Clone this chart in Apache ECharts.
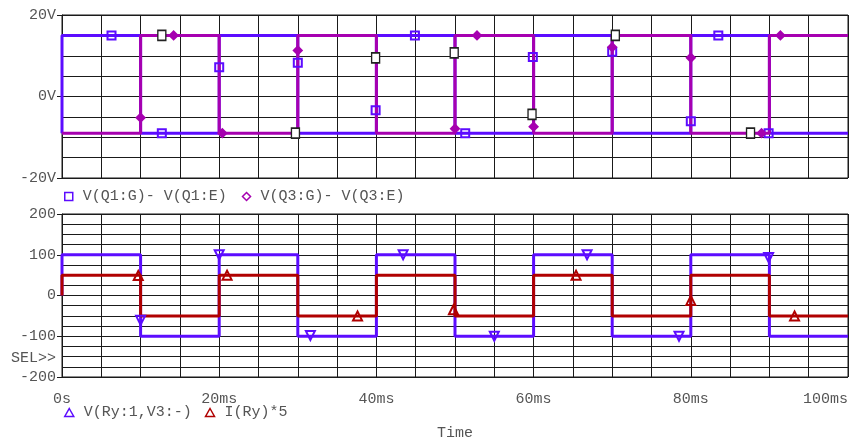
<!DOCTYPE html>
<html>
<head>
<meta charset="utf-8">
<script src="https://cdn.jsdelivr.net/npm/echarts@6/dist/echarts.min.js"></script>
<style>
html,body{margin:0;padding:0;background:#fff;}
#chart{width:851px;height:444px;}
</style>
</head>
<body>
<div id="chart"></div>
<script>
// ---- data (time in ms) ----
const q1Trace = [[0,-9],[0,15],[10,15],[10,-9],[20,-9],[20,15],[30,15],[30,-9],[40,-9],[40,15],[50,15],[50,-9],[60,-9],[60,15],[70,15],[70,-9],[80,-9],[80,15],[90,15],[90,-9],[100,-9]];
const q3Trace = [[0,-9],[10,-9],[10,15],[20,15],[20,-9],[30,-9],[30,15],[40,15],[40,-9],[50,-9],[50,15],[60,15],[60,-9],[70,-9],[70,15],[80,15],[80,-9],[90,-9],[90,15],[100,15]];
const vRyTrace = [[0,0],[0,100],[10,100],[10,-100],[20,-100],[20,100],[30,100],[30,-100],[40,-100],[40,100],[50,100],[50,-100],[60,-100],[60,100],[70,100],[70,-100],[80,-100],[80,100],[90,100],[90,-100],[100,-100]];
const iRyTrace = [[0,0],[0,50],[10,50],[10,-50],[20,-50],[20,50],[30,50],[30,-50],[40,-50],[40,50],[50,50],[50,-50],[60,-50],[60,50],[70,50],[70,-50],[80,-50],[80,50],[90,50],[90,-50],[100,-50]];

const q1Markers = [[6.3,15],[12.7,-9],[20,7.2],[30,8.3],[39.9,-3.4],[44.9,15],[51.3,-9],[59.9,9.7],[70,11],[80,-6.1],[83.5,15],[89.9,-9]];
const q3Markers = [[10,-5.2],[14.2,15],[20.4,-9],[30,11.3],[50,-7.9],[52.8,15],[60,-7.4],[70,12.1],[80,9.5],[89,-9],[91.4,15]];
const whiteMarkers = [[12.7,15],[29.7,-9],[39.9,9.5],[49.9,10.7],[59.8,-4.4],[70.4,15],[87.6,-9]];
const vRyMarkers = [[10,-61],[20,100],[31.6,-98],[43.4,100],[55,-100],[66.8,100],[78.5,-100],[89.9,93]];
const iRyMarkers = [[9.7,49],[21,50],[37.6,-50],[49.8,-35],[65.4,50],[80,-12],[93.2,-50]];

const names = ['V(Q1:G)- V(Q1:E)', 'V(Q3:G)- V(Q3:E)', 'V(Ry:1,V3:-)', 'I(Ry)*5'];
const topTicks = [-20, 0, 20];
const bottomTicks = [-200, -100, 0, 100, 200];

// ---- style ----
const BLUE = '#5c0cff', MAG = '#a600b0', RED = '#b00000';
const FONT = 'Liberation Mono, Courier New, monospace';
const TXT = '#555';
const gridLine = {show:true, lineStyle:{color:'#1a1a1a', width:1}};

const chart = echarts.init(document.getElementById('chart'), null, {renderer:'canvas'});

function xAxis(gi, labels){
  return {
    gridIndex: gi, type:'value', min:0, max:100, interval:20,
    axisLine:{show:true, lineStyle:{color:'#1a1a1a', width:1}},
    axisTick:{show:labels, length:6, inside:false, lineStyle:{color:'#1a1a1a'}},
    axisLabel:{show:labels, color:TXT, fontFamily:FONT, fontSize:15, margin:15,
      alignMaxLabel:'right',
      formatter: v => v === 0 ? '0s' : v + 'ms'},
    splitLine: gridLine,
    minorTick:{show:false, splitNumber:4},
    minorSplitLine: gridLine,
    name: labels ? 'Time' : '', nameLocation:'middle', nameGap:49,
    nameTextStyle:{color:TXT, fontFamily:FONT, fontSize:15}
  };
}
function yAxis(gi, min, max, interval, fmt){
  return {
    gridIndex: gi, type:'value', min:min, max:max, interval:interval,
    axisLine:{show:true, lineStyle:{color:'#1a1a1a', width:1}},
    axisTick:{show:true, length:5, inside:false, lineStyle:{color:'#1a1a1a'}},
    axisLabel:{color:TXT, fontFamily:FONT, fontSize:15, margin:6, formatter: fmt},
    splitLine: gridLine,
    minorTick:{show:false, splitNumber:4},
    minorSplitLine: gridLine
  };
}
function line(name, data, color, xi){
  return {name:name, type:'line', data:data, xAxisIndex:xi, yAxisIndex:xi,
    showSymbol:false, symbol:'none', lineStyle:{color:color, width:3}, itemStyle:{color:color},
    animation:false, silent:true, z:3};
}
function marks(name, data, xi, symbol, size, fill, border, rot, bw){
  return {name:name, type:'scatter', data:data, xAxisIndex:xi, yAxisIndex:xi,
    symbol:symbol, symbolSize:size, symbolRotate: rot || 0,
    itemStyle:{color:fill, borderColor:border, borderWidth: bw || 2, opacity:1},
    animation:false, silent:true, z:5};
}

chart.setOption({
  backgroundColor:'#fff',
  animation:false,
  grid:[
    {left:62, top:15, width:786, height:163, show:true, borderColor:'#1a1a1a', borderWidth:1, outerBoundsMode:'none', containLabel:false},
    {left:62, top:214, width:786, height:163, show:true, borderColor:'#1a1a1a', borderWidth:1, outerBoundsMode:'none', containLabel:false}
  ],
  xAxis:[xAxis(0,false), xAxis(1,true)],
  yAxis:[
    yAxis(0, topTicks[0], topTicks[2], 20, v => v + 'V'),
    yAxis(1, bottomTicks[0], bottomTicks[4], 100, v => String(v))
  ],
  legend:[
    {left:64, top:189, padding:0, itemWidth:8, itemHeight:8, itemGap:15, selectedMode:false,
     textStyle:{color:TXT, fontFamily:FONT, fontSize:15, padding:[0,0,0,5]},
     data:[
       {name:names[0], icon:'rect', itemStyle:{color:'#fff', borderColor:BLUE, borderWidth:1.5}},
       {name:names[1], icon:'diamond', itemStyle:{color:'#fff', borderColor:MAG, borderWidth:1.5}}
     ]},
    {left:64, top:405, padding:0, itemWidth:9, itemHeight:8, itemGap:13, selectedMode:false,
     textStyle:{color:TXT, fontFamily:FONT, fontSize:15, padding:[0,0,0,5]},
     data:[
       {name:names[2], icon:'triangle', itemStyle:{color:'#fff', borderColor:BLUE, borderWidth:1.5}},
       {name:names[3], icon:'triangle', itemStyle:{color:'#fff', borderColor:RED, borderWidth:1.5}}
     ]}
  ],
  graphic:[
    {type:'text', left:11, top:351, style:{text:'SEL>>', fill:TXT, font:'15px ' + FONT}}
  ],
  series:[
    line('q1', q1Trace, BLUE, 0),
    line('q3', q3Trace, MAG, 0),
    line('vry', vRyTrace, BLUE, 1),
    line('iry', iRyTrace, RED, 1),
    marks(names[0], q1Markers, 0, 'rect', 8, 'rgba(0,0,0,0)', BLUE),
    marks(names[1], q3Markers, 0, 'diamond', 8, MAG, MAG),
    marks('white', whiteMarkers, 0, 'rect', [8,10], '#fff', '#222', 0, 1.5),
    marks(names[2], vRyMarkers, 1, 'triangle', 9, 'rgba(0,0,0,0)', BLUE, 180),
    marks(names[3], iRyMarkers, 1, 'triangle', 9, 'rgba(0,0,0,0)', RED)
  ]
});
</script>
</body>
</html>
